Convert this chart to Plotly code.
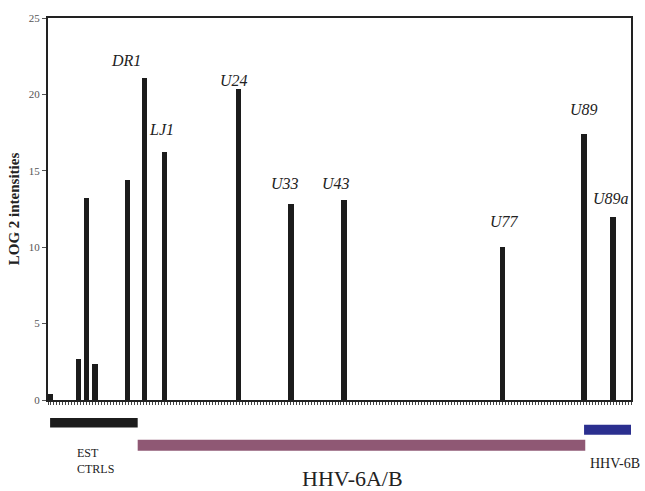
import plotly.graph_objects as go

# Probe positions along the genome track and their log2 signal
positions = [0.8, 10.3, 13.0, 15.7, 26.7, 32.3, 39.0, 63.7, 81.3, 99.0, 152.0, 179.3, 189.0]
intensities = [0.4, 2.7, 13.2, 2.35, 14.4, 21.1, 16.2, 20.35, 12.8, 13.1, 10.0, 17.4, 11.95]

# Gene names shown above selected bars
gene_names = ["DR1", "LJ1", "U24", "U33", "U43", "U77", "U89", "U89a"]
gene_label_x = [26.0, 38.0, 62.3, 79.3, 96.3, 152.7, 179.3, 188.3]
gene_label_y = [22.2, 17.7, 20.9, 14.2, 14.2, 11.7, 19.0, 13.2]

# Region spans (x units) for the bracket bars below the axis
region_names = ["EST<br>CTRLS", "HHV-6A/B", "HHV-6B"]
region_start = [0.7, 30.0, 179.3]
region_end = [30.0, 179.7, 195.3]

SERIF = "Liberation Serif"

fig = go.Figure()
fig.add_trace(go.Bar(
    x=positions, y=intensities, width=1.75,
    marker=dict(color="#1c1c1c", line=dict(width=0)),
    showlegend=False, hoverinfo="x+y",
))

for name, lx, ly in zip(gene_names, gene_label_x, gene_label_y):
    fig.add_annotation(x=lx, y=ly, text=name, showarrow=False,
                       font=dict(family=SERIF, size=16, color="#222", style="italic"))

# Bracket bars below the x axis
bar_colors = ["#1c1c1c", "#8f5874", "#2b2f8f"]
bar_y = [(-0.047, -0.072), (-0.104, -0.133), (-0.065, -0.091)]
for (y0, y1), x0, x1, c in zip(bar_y, region_start, region_end, bar_colors):
    fig.add_shape(type="rect", xref="x", yref="paper", x0=x0, x1=x1, y0=y0, y1=y1,
                  fillcolor=c, line=dict(width=0), layer="above")

fig.add_annotation(xref="paper", yref="paper", x=0.046, y=-0.115, xanchor="left",
                   yanchor="top", text=region_names[0], showarrow=False, align="left",
                   font=dict(family=SERIF, size=12, color="#222"))
fig.add_annotation(xref="x", yref="paper", x=102.0, y=-0.205, yanchor="middle",
                   text=region_names[1], showarrow=False,
                   font=dict(family=SERIF, size=22, color="#222"))
fig.add_annotation(xref="x", yref="paper", x=189.5, y=-0.167, yanchor="middle",
                   text=region_names[2], showarrow=False,
                   font=dict(family=SERIF, size=14, color="#222"))

fig.update_layout(
    width=645, height=491,
    margin=dict(l=47, r=13, t=14, b=91),
    paper_bgcolor="white", plot_bgcolor="white",
    bargap=0,
    xaxis=dict(range=[0, 195], showgrid=False, zeroline=False,
               showline=True, linecolor="#222", linewidth=2, mirror=True,
               ticks="outside", tickmode="linear", tick0=0, dtick=1,
               ticklen=3, tickwidth=1, tickcolor="#444", showticklabels=False),
    yaxis=dict(range=[0, 25], showgrid=False, zeroline=False,
               showline=True, linecolor="#222", linewidth=2, mirror=True,
               ticks="outside", tickmode="linear", tick0=0, dtick=5,
               ticklen=4, tickcolor="#555",
               tickfont=dict(family=SERIF, size=11, color="#555"),
               title=dict(text="<b>LOG 2 intensities</b>", standoff=6,
                          font=dict(family=SERIF, size=15, color="#222"))),
)

fig.write_html("out.html")
